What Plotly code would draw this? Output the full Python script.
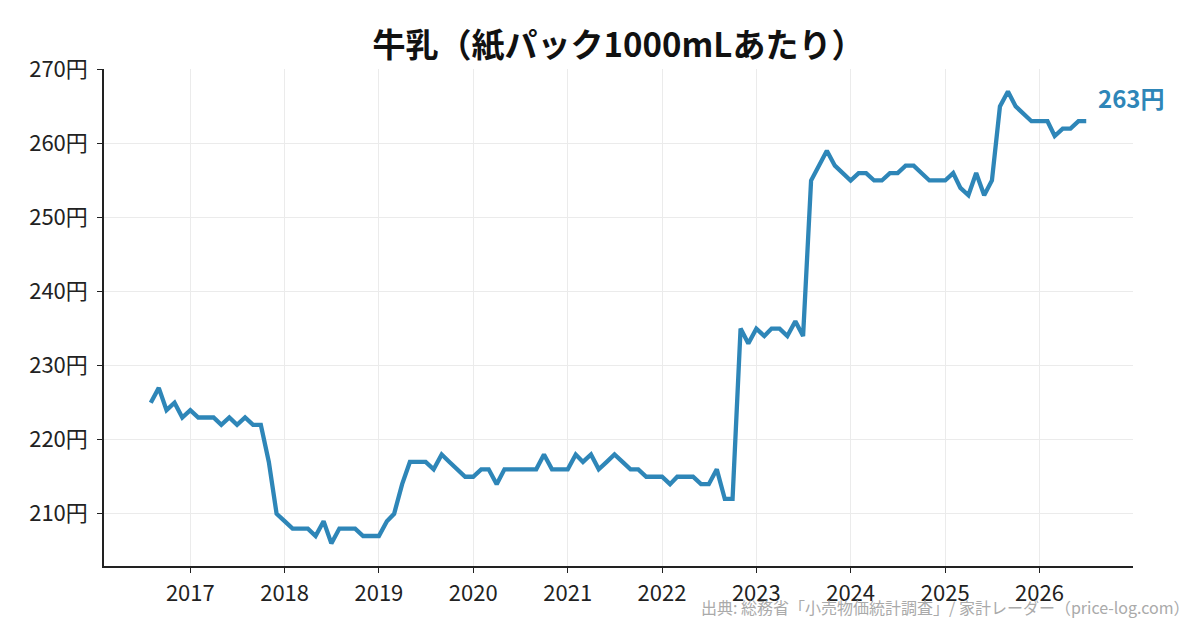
import plotly.graph_objs as go
import pandas as pd

months = pd.date_range('2016-08-01', '2026-07-01', freq='MS')

prices = [225, 227, 224, 225, 223,
          224, 223, 223, 223, 222, 223, 222, 223, 222, 222, 217, 210,
          209, 208, 208, 208, 207, 209, 206, 208, 208, 208, 207, 207,
          207, 209, 210, 214, 217, 217, 217, 216, 218, 217, 216, 215,
          215, 216, 216, 214, 216, 216, 216, 216, 216, 218, 216, 216,
          216, 218, 217, 218, 216, 217, 218, 217, 216, 216, 215, 215,
          215, 214, 215, 215, 215, 214, 214, 216, 212, 212, 235, 233,
          235, 234, 235, 235, 234, 236, 234, 255, 257, 259, 257, 256,
          255, 256, 256, 255, 255, 256, 256, 257, 257, 256, 255, 255,
          255, 256, 254, 253, 256, 253, 255, 265, 267, 265, 264, 263,
          263, 263, 261, 262, 262, 263, 263]

ytick_vals = [210, 220, 230, 240, 250, 260, 270]
ytick_text = [f'{v}円' for v in ytick_vals]

title = '牛乳（紙パック1000mLあたり）'
source = '出典: 総務省「小売物価統計調査」/ 家計レーダー（price-log.com）'

font = 'Noto Sans CJK JP'
blue = '#2E86B8'

trace = go.Scatter(x=months, y=prices, mode='lines',
                   line=dict(color=blue, width=4.3),
                   hoverinfo='skip')

# 5% padding like the original
span = months[-1] - months[0]
xr = [months[0] - span * 0.05, months[-1] + span * 0.05]
yspan = max(prices) - min(prices)
yr = [min(prices) - yspan * 0.05, max(prices) + yspan * 0.05]

# page body has an 8px margin, margins are set to compensate
layout = go.Layout(
    width=1200, height=630,
    paper_bgcolor='white', plot_bgcolor='white',
    margin=dict(l=96, r=75, t=61, b=72),
    font=dict(family=font, color='#222222', size=22),
    showlegend=False,
    title=dict(text='<b>' + title + '</b>', x=0.5, xref='paper',
               y=0.941, yanchor='middle', font=dict(size=33, color='#111111')),
    xaxis=dict(type='date', range=xr, tick0='2017-01-01', dtick='M12',
               tickformat='%Y', showgrid=True, gridcolor='#ebebeb', gridwidth=1,
               showline=True, linecolor='#222222', linewidth=1.5,
               ticks='outside', ticklen=5, tickcolor='#222222',
               ticklabelstandoff=2,
               zeroline=False, tickfont=dict(size=22), automargin=False),
    yaxis=dict(range=yr, tickvals=ytick_vals, ticktext=ytick_text,
               showgrid=True, gridcolor='#ebebeb', gridwidth=1,
               showline=True, linecolor='#222222', linewidth=1.5,
               ticks='outside', ticklen=5, tickcolor='#222222',
               ticklabelstandoff=5,
               zeroline=False, tickfont=dict(size=22), automargin=False),
    annotations=[
        dict(x=months[-1], y=prices[-1], xref='x', yref='y',
             text=f'<b>{prices[-1]}円</b>', showarrow=False,
             xanchor='left', yanchor='middle', xshift=10, yshift=24,
             font=dict(size=24, color=blue)),
        dict(x=1.057, y=-0.083, xref='paper', yref='paper',
             text=source, showarrow=False, xanchor='right', yanchor='middle',
             font=dict(size=16, color='#aaaaaa')),
    ],
)

fig = go.Figure(data=[trace], layout=layout)
fig.write_html('out.html')
